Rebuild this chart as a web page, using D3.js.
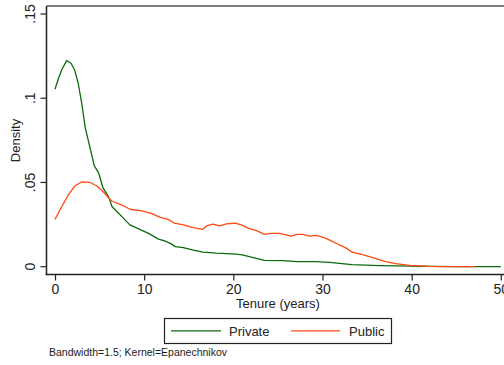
<!DOCTYPE html>
<html>
<head>
<meta charset="utf-8">
<script src="https://cdn.jsdelivr.net/npm/d3@7"></script>
<style>
  html, body { margin: 0; padding: 0; background: #fff; }
  svg { display: block; font-family: "Liberation Sans", Arial, Helvetica, sans-serif; }
</style>
</head>
<body>
<svg id="chart" width="504" height="365"></svg>
<script>
// Kernel density estimates of job tenure, private vs public sector
const privateTenure = [0, 0.4, 0.75, 1.3, 1.8, 2.2, 2.6, 3.0, 3.4, 3.9, 4.4, 4.9, 5.4, 6.0, 6.4, 7.0, 7.5, 8.4, 9.5, 10.5, 11.6, 12.3, 13.0, 13.5, 14.4, 15.5, 16.6, 18.1, 20.3, 21.0, 21.9, 23.5, 25.6, 27.1, 29.3, 30.8, 31.9, 33.3, 36.4, 40, 45, 50];
const privateDensity = [.1053, .1119, .1168, .1223, .1208, .1168, .1089, .0970, .0822, .0713, .0600, .0555, .0466, .0416, .0356, .0325, .0297, .0248, .0222, .0198, .0164, .0153, .0137, .0119, .0113, .0099, .0087, .0080, .0075, .0070, .0059, .0038, .0036, .0030, .0030, .0026, .0020, .0012, .0006, .0003, .0001, .0000];

const publicTenure = [0, 0.75, 1.5, 2.2, 3.0, 3.9, 4.7, 5.4, 6.35, 7.5, 8.4, 9.7, 10.8, 11.8, 12.7, 13.4, 14.4, 15.5, 16.6, 17.0, 17.7, 18.5, 19.2, 20.2, 20.9, 21.7, 22.6, 23.5, 24.1, 25.2, 26.5, 27.1, 27.8, 28.6, 29.3, 30.1, 30.8, 31.9, 32.5, 33.4, 34.5, 36, 37.1, 38.2, 39.8, 42, 43.5, 47.1];
const publicDensity = [.0281, .0356, .0426, .0479, .0503, .0501, .0479, .0445, .0390, .0366, .0341, .0331, .0317, .0293, .0281, .0258, .0248, .0232, .0222, .0242, .0252, .0242, .0254, .0258, .0248, .0228, .0214, .0192, .0198, .0198, .0182, .0192, .0192, .0182, .0186, .0174, .0158, .0129, .0115, .0085, .0071, .0048, .0030, .0018, .0008, .0002, .0000, .0000];

const xTicks = [0, 10, 20, 30, 40, 50];
const yTicks = [0, 0.05, 0.1, 0.15];
const yTickLabels = ["0", ".05", ".1", ".15"];
const seriesNames = ["Private", "Public"];
const seriesColors = ["#0b6b0b", "#ff4a12"];
const xTitle = "Tenure (years)";
const yTitle = "Density";
const note = "Bandwidth=1.5; Kernel=Epanechnikov";

const svg = d3.select("#chart");

const x = d3.scaleLinear().domain([0, 50]).range([55, 500.8]);
const y = d3.scaleLinear().domain([0, 0.15]).range([266.7, 14]);

const axisLeftX = 46.5, axisBottomY = 274.5, plotTop = 6;

// plot region top border
svg.append("line")
  .attr("x1", axisLeftX).attr("x2", 504)
  .attr("y1", plotTop).attr("y2", plotTop)
  .attr("stroke", "#555").attr("stroke-width", 1.5);

// y axis
const yAxis = d3.axisLeft(y).tickValues(yTicks)
  .tickFormat((d, i) => yTickLabels[i]).tickSize(6).tickPadding(6);
const gy = svg.append("g").attr("transform", `translate(${axisLeftX},0)`).call(yAxis);
gy.select(".domain").remove();
gy.append("line").attr("x1", 0).attr("x2", 0).attr("y1", plotTop).attr("y2", axisBottomY + 0.75)
  .attr("stroke", "#222").attr("stroke-width", 1.5);
gy.selectAll(".tick line").attr("stroke", "#222").attr("stroke-width", 1.2);
gy.selectAll(".tick text")
  .attr("font-size", 14).attr("fill", "#222")
  .attr("text-anchor", "middle")
  .attr("transform", "rotate(-90)")
  .attr("x", 0).attr("y", 0)
  .attr("dy", null)
  .each(function (d) {
    d3.select(this).attr("transform", `translate(-12,${y(d)}) rotate(-90)`)
      .attr("x", 0).attr("y", 0);
  });
gy.selectAll(".tick").attr("transform", d => `translate(0,${y(d)})`);
gy.selectAll(".tick text").attr("transform", "translate(-12,0) rotate(-90)");

// x axis
const xAxis = d3.axisBottom(x).tickValues(xTicks).tickFormat(d3.format("d")).tickSize(6).tickPadding(4);
const gx = svg.append("g").attr("transform", `translate(0,${axisBottomY})`).call(xAxis);
gx.select(".domain").remove();
gx.append("line").attr("x1", axisLeftX - 0.75).attr("x2", 504).attr("y1", 0).attr("y2", 0)
  .attr("stroke", "#222").attr("stroke-width", 1.5);
gx.selectAll(".tick line").attr("stroke", "#222").attr("stroke-width", 1.2);
gx.selectAll(".tick text").attr("font-size", 14).attr("fill", "#222");

// axis titles
svg.append("text")
  .attr("x", 278).attr("y", 307.5)
  .attr("text-anchor", "middle").attr("font-size", 13).attr("fill", "#222")
  .text(xTitle);
svg.append("text")
  .attr("transform", `translate(19.5,140.5) rotate(-90)`)
  .attr("text-anchor", "middle").attr("font-size", 13).attr("fill", "#222")
  .text(yTitle);

// density curves
const line = d3.line().x(d => x(d[0])).y(d => y(d[1]));
const series = [
  d3.zip(privateTenure, privateDensity),
  d3.zip(publicTenure, publicDensity)
];
svg.append("g").selectAll("path")
  .data(series)
  .join("path")
  .attr("d", line)
  .attr("fill", "none")
  .attr("stroke", (d, i) => seriesColors[i])
  .attr("stroke-width", 1.3)
  .attr("stroke-linejoin", "round");

// legend
const legend = svg.append("g");
legend.append("rect")
  .attr("x", 164.5).attr("y", 318.5).attr("width", 227).attr("height", 25)
  .attr("fill", "#fff").attr("stroke", "#222").attr("stroke-width", 1.2);
const legendItems = [
  { x1: 171, x2: 221, tx: 229 },
  { x1: 291, x2: 340, tx: 349 }
];
legendItems.forEach((it, i) => {
  legend.append("line")
    .attr("x1", it.x1).attr("x2", it.x2).attr("y1", 330.8).attr("y2", 330.8)
    .attr("stroke", seriesColors[i]).attr("stroke-width", 1.3);
  legend.append("text")
    .attr("x", it.tx).attr("y", 335.5)
    .attr("font-size", 13).attr("fill", "#222")
    .text(seriesNames[i]);
});

// note
svg.append("text")
  .attr("x", 49).attr("y", 356)
  .attr("font-size", 10.5).attr("fill", "#222")
  .text(note);
</script>
</body>
</html>
